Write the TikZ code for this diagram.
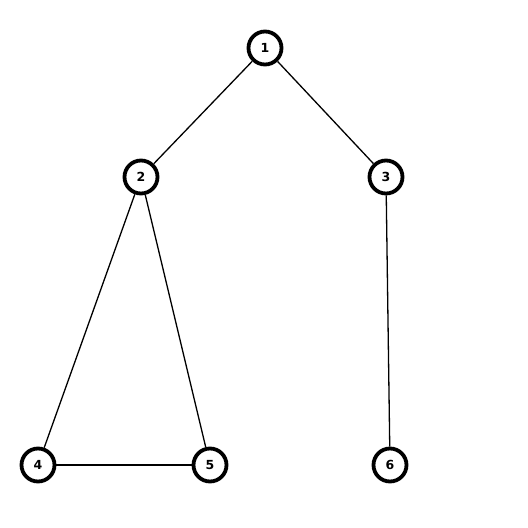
\documentclass[tikz,border=0pt]{standalone}
\usepackage{fontspec}
\setmainfont{DejaVu Sans}
\begin{document}
\begin{tikzpicture}[x=1pt,y=-1pt,
  vtx/.style={circle,draw=black,line width=3.8pt,fill=white,minimum size=33pt,inner sep=0pt,font=\bfseries\fontsize{12.5}{14}\selectfont},
  edge/.style={line width=1.3pt}]
\useasboundingbox (0,0) rectangle (528,528);
\node[vtx] (n1) at (265,48) {1};
\node[vtx] (n2) at (141,177) {2};
\node[vtx] (n3) at (386,177) {3};
\node[vtx] (n4) at (38,465) {4};
\node[vtx] (n5) at (210,465) {5};
\node[vtx] (n6) at (390,465) {6};
\draw[edge] (n1) -- (n2);
\draw[edge] (n1) -- (n3);
\draw[edge] (n2) -- (n4);
\draw[edge] (n2) -- (n5);
\draw[edge] (n3) -- (n6);
\draw[edge] (n4) -- (n5);
\end{tikzpicture}
\end{document}
